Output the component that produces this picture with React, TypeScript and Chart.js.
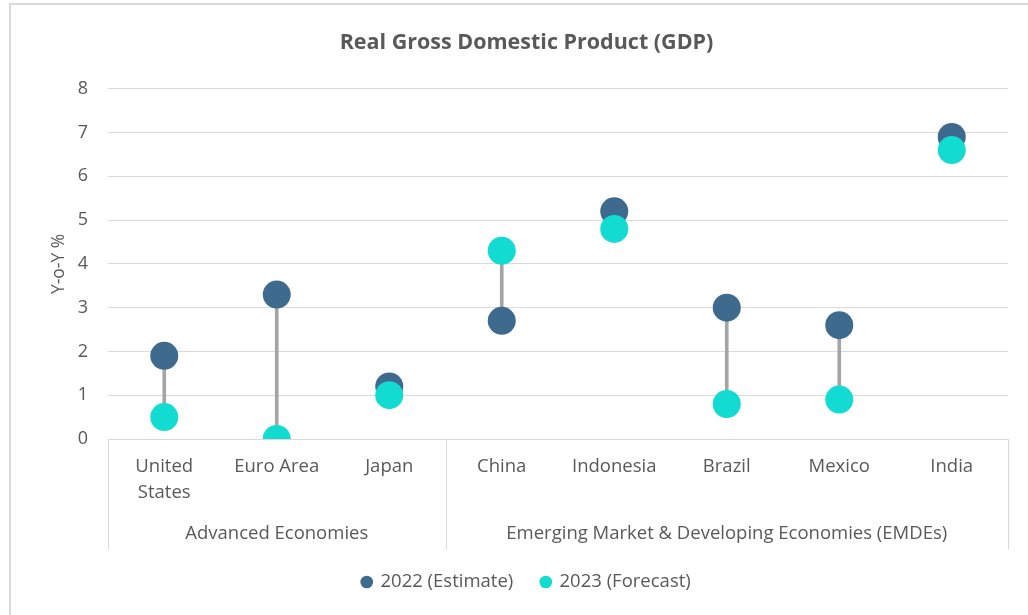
import React, { useEffect, useRef } from "react";
import { Chart, registerables } from "chart.js";

Chart.register(...registerables);

const categories: (string | string[])[] = [
  ["United", "States"],
  "Euro Area",
  "Japan",
  "China",
  "Indonesia",
  "Brazil",
  "Mexico",
  "India",
];
const groups = [
  { label: "Advanced Economies", count: 3 },
  { label: "Emerging Market & Developing Economies (EMDEs)", count: 5 },
];
const estimate2022 = [1.9, 3.3, 1.2, 2.7, 5.2, 3.0, 2.6, 6.9];
const forecast2023 = [0.5, 0.0, 1.0, 4.3, 4.8, 0.8, 0.9, 6.6];
const yTicks = [0, 1, 2, 3, 4, 5, 6, 7, 8];

const FONT = "'Open Sans', sans-serif";
const TEXT = "#595959";
const GRID = "#D9D9D9";

const groupPlugin = {
  id: "groupLabels",
  afterDraw(chart: any) {
    const { ctx, chartArea, scales } = chart;
    const x = scales.x;
    const top = chartArea.bottom;
    const bottom = chartArea.bottom + 110;
    const n = categories.length;
    const step = (chartArea.right - chartArea.left) / n;
    ctx.save();
    ctx.strokeStyle = GRID;
    ctx.lineWidth = 1;
    const bounds: number[] = [chartArea.left];
    let idx = 0;
    groups.forEach((g) => {
      idx += g.count;
      bounds.push(x.getPixelForValue(idx - 1) + step / 2);
    });
    bounds.forEach((bx) => {
      ctx.beginPath();
      ctx.moveTo(Math.round(bx) + 0.5, top);
      ctx.lineTo(Math.round(bx) + 0.5, bottom);
      ctx.stroke();
    });
    ctx.fillStyle = TEXT;
    ctx.font = `18.5px ${FONT}`;
    ctx.textAlign = "center";
    ctx.textBaseline = "middle";
    groups.forEach((g, i) => {
      const cx = (bounds[i] + bounds[i + 1]) / 2;
      ctx.fillText(g.label, cx, chartArea.bottom + 95);
    });
    ctx.restore();
  },
};

export default function App() {
  const ref = useRef<HTMLCanvasElement | null>(null);
  useEffect(() => {
    if (!ref.current) return;
    const chart = new Chart(ref.current, {
      type: "bar",
      data: {
        labels: categories as any,
        datasets: [
          {
            type: "bar",
            label: "range",
            data: estimate2022.map((v, i) => [Math.min(v, forecast2023[i]), Math.max(v, forecast2023[i])]) as any,
            backgroundColor: "#A5A5A5",
            barThickness: 3,
            order: 3,
          },
          {
            type: "line",
            label: "2022 (Estimate)",
            data: estimate2022,
            showLine: false,
            pointRadius: 14,
            pointHoverRadius: 14,
            backgroundColor: "#3E6A8E",
            borderColor: "#3E6A8E",
            borderWidth: 0,
            pointBorderWidth: 0,
            order: 2,
          } as any,
          {
            type: "line",
            label: "2023 (Forecast)",
            data: forecast2023,
            showLine: false,
            pointRadius: 14,
            pointHoverRadius: 14,
            backgroundColor: "#12DCD2",
            borderColor: "#12DCD2",
            borderWidth: 0,
            pointBorderWidth: 0,
            order: 1,
          } as any,
        ],
      },
      options: {
        responsive: false,
        animation: false,
        layout: { padding: { left: 45, right: 20, top: 0, bottom: 13.75 } },
        plugins: {
          title: {
            display: true,
            text: "Real Gross Domestic Product (GDP)",
            color: TEXT,
            font: { family: FONT, size: 21.5, weight: "bold" },
            padding: { top: 30, bottom: 33 },
          },
          legend: {
            position: "bottom",
            labels: {
              color: TEXT,
              font: { family: FONT, size: 18.5 },
              usePointStyle: true,
              pointStyle: "circle",
              boxWidth: 9,
              boxHeight: 9,
              padding: 28,
              filter: (item: any) => item.datasetIndex !== 0,
              sort: (a: any, b: any) => a.datasetIndex - b.datasetIndex,
            },
          },
          tooltip: { enabled: false },
        },
        scales: {
          x: {
            grid: { display: false, drawTicks: false },
            border: { display: false },
            ticks: {
              color: TEXT,
              font: { family: FONT, size: 18.5, lineHeight: 1.4 },
              padding: 15,
              maxRotation: 0,
              autoSkip: false,
            },
            afterFit: (s: any) => {
              s.height = 105.75;
            },
          },
          y: {
            min: yTicks[0],
            max: yTicks[yTicks.length - 1],
            grid: { color: GRID, lineWidth: 1, drawTicks: false },
            border: { display: false },
            ticks: {
              stepSize: 1,
              color: TEXT,
              font: { family: FONT, size: 18 },
              padding: 20,
            },
            title: {
              display: true,
              text: "Y-o-Y %",
              color: TEXT,
              font: { family: FONT, size: 17.5 },
            },
            afterFit: (s: any) => {
              s.width = 63;
            },
          },
        },
      },
      plugins: [groupPlugin],
    } as any);
    return () => chart.destroy();
  }, []);
  return (
    <div style={{ position: "fixed", left: 0, top: 0, width: 1028, height: 615, background: "#fff", overflow: "hidden" }}>
      <div
        style={{
          position: "absolute",
          left: 9,
          top: 3,
          width: 1040,
          height: 640,
          border: `2px solid ${GRID}`,
          boxSizing: "border-box",
        }}
      />
      <canvas ref={ref} width={1028} height={615} style={{ position: "absolute", left: 0, top: 0 }} />
    </div>
  );
}
